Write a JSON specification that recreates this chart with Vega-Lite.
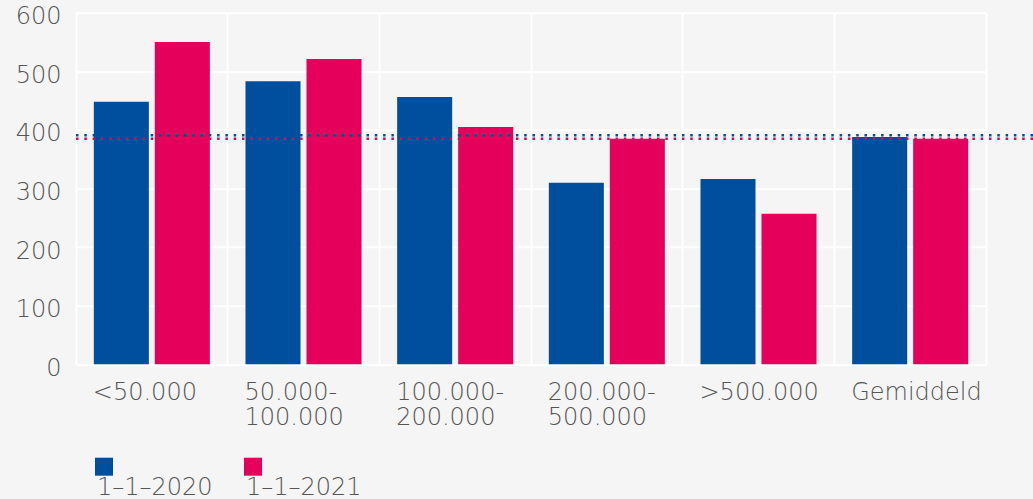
{
  "$schema": "https://vega.github.io/schema/vega-lite/v6.json",
  "width": 957,
  "height": 351.6,
  "autosize": {"type": "none"},
  "padding": {"left": 76, "top": 12.7, "right": 0, "bottom": 134.7},
  "background": "#f5f5f5",
  "config": {
    "view": {"stroke": null},
    "font": "DejaVu Sans",
    "text": {"font": "DejaVu Sans"}
  },
  "datasets": {
    "bars": [
      {"klasse": "<50.000", "jaar": "1–1–2020", "waarde": 448},
      {"klasse": "<50.000", "jaar": "1–1–2021", "waarde": 550},
      {"klasse": "50.000-100.000", "jaar": "1–1–2020", "waarde": 483},
      {"klasse": "50.000-100.000", "jaar": "1–1–2021", "waarde": 521},
      {"klasse": "100.000-200.000", "jaar": "1–1–2020", "waarde": 456},
      {"klasse": "100.000-200.000", "jaar": "1–1–2021", "waarde": 405},
      {"klasse": "200.000-500.000", "jaar": "1–1–2020", "waarde": 310},
      {"klasse": "200.000-500.000", "jaar": "1–1–2021", "waarde": 385},
      {"klasse": ">500.000", "jaar": "1–1–2020", "waarde": 316},
      {"klasse": ">500.000", "jaar": "1–1–2021", "waarde": 257},
      {"klasse": "Gemiddeld", "jaar": "1–1–2020", "waarde": 388},
      {"klasse": "Gemiddeld", "jaar": "1–1–2021", "waarde": 385}
    ],
    "avg": [
      {"jaar": "1–1–2020", "gemiddelde": 391},
      {"jaar": "1–1–2021", "gemiddelde": 385}
    ]
  },
  "layer": [
    {
      "data": {"name": "bars"},
      "mark": {"type": "bar"},
      "encoding": {
        "x": {
          "field": "klasse",
          "type": "nominal",
          "sort": ["<50.000", "50.000-100.000", "100.000-200.000", "200.000-500.000", ">500.000", "Gemiddeld"],
          "scale": {"type": "band", "range": [0, 910], "paddingInner": 0, "paddingOuter": 0},
          "axis": {
            "title": null,
            "grid": true,
            "gridColor": "#ffffff",
            "gridWidth": 2,
            "bandPosition": 0,
            "ticks": false,
            "tickSize": 0,
            "domain": false,
            "labelAngle": 0,
            "labelAlign": "left",
            "labelBaseline": "top",
            "labelOffset": -59,
            "labelPadding": 16,
            "labelFontSize": 24,
            "labelFontWeight": 300,
            "labelColor": "#555555",
            "labelLineHeight": 25,
            "labelLimit": 300,
            "labelOverlap": false,
            "labelExpr": "indexof(datum.label, '-') > 0 ? [slice(datum.label, 0, indexof(datum.label, '-') + 1), slice(datum.label, indexof(datum.label, '-') + 1)] : datum.label"
          }
        },
        "xOffset": {
          "field": "jaar",
          "type": "nominal",
          "scale": {"paddingInner": 0.098, "paddingOuter": 0.292}
        },
        "y": {
          "field": "waarde",
          "type": "quantitative",
          "scale": {"domain": [0, 600], "nice": false},
          "axis": {
            "title": null,
            "values": [0, 100, 200, 300, 400, 500, 600],
            "grid": true,
            "gridColor": "#ffffff",
            "gridWidth": 2,
            "domain": false,
            "ticks": false,
            "tickSize": 0,
            "labelPadding": 15,
            "labelOffset": 4,
            "labelFontSize": 24,
            "labelFontWeight": 300,
            "labelColor": "#555555"
          }
        },
        "color": {
          "field": "jaar",
          "type": "nominal",
          "scale": {"domain": ["1–1–2020", "1–1–2021"], "range": ["#004f9e", "#e5005b"]},
          "legend": {
            "orient": "none",
            "legendX": 16,
            "legendY": 442,
            "direction": "horizontal",
            "title": null,
            "symbolType": "square",
            "symbolSize": 324,
            "symbolStrokeWidth": 0,
            "labelFontSize": 24,
            "labelFontWeight": 300,
            "labelColor": "#555555",
            "labelOffset": -19,
            "columnPadding": 28,
            "padding": 0,
            "labelLimit": 300,
            "encode": {"labels": {"update": {"dy": {"value": 21}}}}
          }
        }
      }
    },
    {
      "data": {"name": "avg"},
      "mark": {"type": "rule", "strokeWidth": 2.5, "strokeDash": [2.5, 5.8]},
      "encoding": {
        "y": {
          "field": "gemiddelde",
          "type": "quantitative",
          "scale": {"domain": [0, 600], "nice": false},
          "axis": {
            "orient": "right",
            "offset": -47,
            "title": null,
            "labels": false,
            "ticks": false,
            "grid": false,
            "domain": true,
            "domainColor": "#ffffff",
            "domainWidth": 2
          }
        },
        "stroke": {
          "field": "jaar",
          "type": "nominal",
          "scale": {"domain": ["1–1–2020", "1–1–2021"], "range": ["#004f9e", "#e5005b"]},
          "legend": null
        }
      }
    }
  ],
  "resolve": {"scale": {"y": "independent"}}
}
